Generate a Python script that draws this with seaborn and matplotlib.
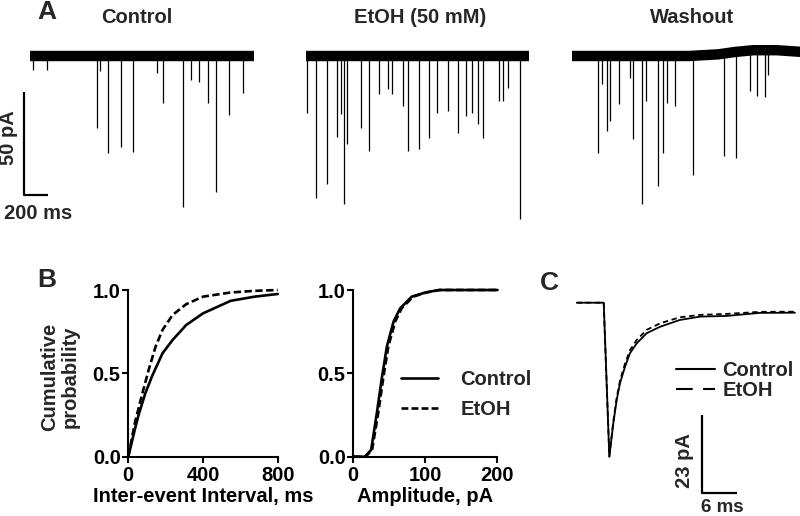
import numpy as np
import pandas as pd
import matplotlib
matplotlib.use("Agg")
import matplotlib.pyplot as plt
import seaborn as sns
from matplotlib.lines import Line2D

# ------------------------------------------------------------------ data
conditions = ["Control", "EtOH (50 mM)", "Washout"]

# Panel A: sEPSC events (time from trace start, ms ; amplitude, pA)
ctrl_evt_t = [26, 145, 600, 573, 667, 778, 881, 1086, 1137, 1308, 1377, 1445, 1522, 1590, 1701, 1821]
ctrl_evt_amp = [6.8, 6.8, 7.5, 34.8, 47.0, 44.0, 46.5, 8.2, 22.7, 73.1, 11.6, 12.6, 22.7, 65.8, 28.6, 17.9]

etoh_evt_t = [11, 83, 177, 268, 297, 325, 353, 468, 539, 627, 704, 738, 832, 875, 966,
              1052, 1117, 1217, 1302, 1368, 1417, 1473, 1516, 1653, 1687, 1730, 1830]
etoh_evt_amp = [27.6, 68.7, 62.0, 39.2, 28.1, 71.6, 42.6, 34.8, 46.0, 18.4, 16.0, 18.4, 24.2, 46.0, 45.0,
                39.7, 27.6, 26.6, 37.3, 29.0, 27.6, 32.9, 39.7, 21.8, 21.8, 15.5, 78.9]

wash_evt_t = [225, 254, 297, 325, 402, 496, 524, 601, 630, 738, 781, 810, 881, 1037,
              1302, 1402, 1522, 1584, 1650, 1679]
wash_evt_amp = [46.9, 13.6, 36.3, 31.5, 23.2, 10.6, 40.2, 71.6, 21.8, 62.9, 46.9, 22.7, 24.2, 57.6,
                49.4, 51.3, 19.8, 22.3, 22.7, 12.1]

trace_dur_ms = [1915, 1907, 1960]
wash_base_t = [0, 1000, 1250, 1400, 1550, 1750, 1960]
wash_base_pA = [0, 0, 0.8, 2.0, 2.8, 2.8, 2.0]

scaleA_ms, scaleA_pA = 200, 50

# Panel B: cumulative probability curves
ibi_ctrl_ms = [0, 36.5, 55, 91, 128, 183, 237, 310, 400, 548, 676, 800]
ibi_ctrl_p = [0, 0.17, 0.25, 0.38, 0.485, 0.62, 0.70, 0.79, 0.86, 0.935, 0.96, 0.976]
ibi_etoh_ms = [0, 36.5, 73, 110, 146, 183, 237, 310, 400, 548, 676, 800]
ibi_etoh_p = [0, 0.21, 0.37, 0.525, 0.66, 0.76, 0.85, 0.915, 0.96, 0.985, 0.995, 1.0]

amp_ctrl_pA = [0, 16, 24.7, 32.6, 39.5, 46.5, 55.8, 65, 81, 100, 118.6, 200]
amp_ctrl_p = [0, 0, 0.04, 0.26, 0.47, 0.66, 0.81, 0.89, 0.96, 0.985, 1.0, 1.0]
amp_etoh_pA = [0, 17, 26, 34.5, 41.5, 48.5, 58, 67, 83, 101, 120, 200]
amp_etoh_p = [0, 0, 0.04, 0.26, 0.47, 0.66, 0.81, 0.89, 0.96, 0.985, 1.0, 1.0]

ibi_ticks = [0, 400, 800]
amp_ticks = [0, 100, 200]
p_ticks = [0.0, 0.5, 1.0]
p_ticklabels = ["0.0", "0.5", "1.0"]

# Panel C: averaged events
avg_t_ms = [-4.7, -0.1, 0.86, 1.54, 2.12, 2.68, 3.54, 4.39, 5.54, 7.25, 9.52, 12.9, 16.4, 20.9, 26.6, 32.6]
avg_ctrl_pA = [0, 0, -45.4, -35.6, -28.7, -23.8, -18.9, -14.9, -12.0, -9.0, -7.1, -5.1, -4.1, -3.9, -3.0, -2.95]
avg_etoh_pA = [0, 0, -45.4, -35.0, -28.0, -23.0, -18.0, -14.0, -11.0, -8.0, -6.1, -4.3, -3.6, -3.3, -2.7, -2.65]
scaleC_ms, scaleC_pA = 6, 23

# ------------------------------------------------------------------ style
sns.set_theme(style="ticks")
plt.rcParams["font.family"] = ["Liberation Sans", "DejaVu Sans"]
plt.rcParams["font.weight"] = "bold"
plt.rcParams["axes.labelweight"] = "bold"

W, H = 800, 516
fig = plt.figure(figsize=(W / 100, H / 100), dpi=100)
fig.patch.set_facecolor("white")


def fx(px):
    return px / W


def fy(py):
    return 1 - py / H


def ftext(px, py, s, **kw):
    kw.setdefault("ha", "center")
    kw.setdefault("va", "center")
    kw.setdefault("fontweight", "bold")
    fig.text(fx(px), fy(py), s, **kw)


FS = 14.5

# ------------------------------------------------------------------ Panel A
MS_PX = 8.55      # ms per pixel
PA_PX = 0.484     # pA per pixel
BASE_PY = 56
axA = fig.add_axes([0, fy(230), 1, 230 / H])
axA.set_xlim(0, W * MS_PX)
axA.set_ylim(-(230 - BASE_PY) * PA_PX, BASE_PY * PA_PX)
axA.axis("off")

trace_start_px = [30, 306, 572]
events = [(ctrl_evt_t, ctrl_evt_amp), (etoh_evt_t, etoh_evt_amp), (wash_evt_t, wash_evt_amp)]
for i, ((et, ea), dur) in enumerate(zip(events, trace_dur_ms)):
    off = trace_start_px[i] * MS_PX
    et = np.asarray(et, float)
    ea = np.asarray(ea, float)
    if i == 2:
        bt = off + np.asarray(wash_base_t, float)
        bl = np.asarray(wash_base_pA, float)
        base_at_evt = np.interp(et, wash_base_t, wash_base_pA)
    else:
        bt = np.array([off, off + dur])
        bl = np.array([0.0, 0.0])
        base_at_evt = np.zeros_like(et)
    axA.plot(bt, bl, color="black", lw=7.5, solid_capstyle="butt", solid_joinstyle="round")
    axA.vlines(off + et, base_at_evt, base_at_evt - ea, color="black", lw=0.9)

# A scale bar
sbx = 24.3 * MS_PX
sby = -(195 - BASE_PY) * PA_PX
axA.plot([sbx, sbx, sbx + scaleA_ms], [sby + scaleA_pA, sby, sby], color="black", lw=1.6,
         solid_capstyle="butt")
ftext(9, 138, f"{scaleA_pA} pA", rotation=90, fontsize=FS)
ftext(38, 213, f"{scaleA_ms} ms", fontsize=FS)

ftext(137, 17, conditions[0], fontsize=FS)
ftext(420, 17, conditions[1], fontsize=FS)
ftext(692, 17, conditions[2], fontsize=FS)
ftext(47, 12, "A", fontsize=19)

# ------------------------------------------------------------------ Panel B
y0_px, y1_px = 456.7, 290.0
df_ibi = pd.DataFrame({
    "x": ibi_ctrl_ms + ibi_etoh_ms,
    "p": ibi_ctrl_p + ibi_etoh_p,
    "cond": ["Control"] * len(ibi_ctrl_ms) + ["EtOH"] * len(ibi_etoh_ms),
})
df_amp = pd.DataFrame({
    "x": amp_ctrl_pA + amp_etoh_pA,
    "p": amp_ctrl_p + amp_etoh_p,
    "cond": ["Control"] * len(amp_ctrl_pA) + ["EtOH"] * len(amp_etoh_pA),
})
dashesB = {"Control": "", "EtOH": (2.8, 1.3)}


def style_axis(ax, xticks, xlabel):
    ax.set_ylim(0, 1)
    ax.set_yticks(p_ticks)
    ax.set_yticklabels(p_ticklabels)
    ax.set_xticks(xticks)
    ax.set_xticklabels([str(t) for t in xticks])
    for s in ["top", "right"]:
        ax.spines[s].set_visible(False)
    for s in ["left", "bottom"]:
        ax.spines[s].set_linewidth(1.5)
        ax.spines[s].set_color("black")
    ax.tick_params(axis="both", direction="out", length=4, width=1.5, color="black",
                   labelsize=FS, labelcolor="black")
    ax.tick_params(axis="y", pad=1.5)
    ax.tick_params(axis="x", pad=3)
    for lab in ax.get_xticklabels() + ax.get_yticklabels():
        lab.set_fontweight("bold")
    ax.set_xlabel(xlabel, fontsize=FS, fontweight="bold", color="black", labelpad=1)
    ax.set_ylabel("")
    ax.set_facecolor("none")
    ax.grid(False)
    for ln in ax.lines:
        ln.set_clip_on(False)


axB1 = fig.add_axes([fx(128.3), fy(y0_px), (277.7 - 128.3) / W, (y0_px - y1_px) / H])
sns.lineplot(data=df_ibi, x="x", y="p", style="cond", dashes=dashesB, color="black",
             lw=1.9, estimator=None, legend=False, ax=axB1)
axB1.set_xlim(0, 800)
style_axis(axB1, ibi_ticks, "Inter-event Interval, ms")
ftext(60, 377, "Cumulative\nprobability", rotation=90, fontsize=FS, linespacing=1.15)
ftext(47, 280, "B", fontsize=19)

axB2 = fig.add_axes([fx(353.3), fy(y0_px), (497.5 - 353.3) / W, (y0_px - y1_px) / H])
sns.lineplot(data=df_amp, x="x", y="p", style="cond", dashes=dashesB, color="black",
             lw=1.9, estimator=None, legend=False, ax=axB2)
axB2.set_xlim(0, 200)
style_axis(axB2, amp_ticks, "Amplitude, pA")

hB = [Line2D([], [], color="black", lw=1.9),
      Line2D([], [], color="black", lw=1.9, ls=(0, (2.6, 1.2)))]
legB = axB2.legend(hB, ["Control", "EtOH"], loc="upper left",
                   bbox_to_anchor=(fx(401), fy(370)), bbox_transform=fig.transFigure,
                   frameon=False, fontsize=FS, handlelength=1.85, handletextpad=1.1,
                   labelspacing=0.55, borderpad=0, borderaxespad=0)
for t in legB.get_texts():
    t.set_fontweight("bold")

# ------------------------------------------------------------------ Panel C
C_MS_PX = 0.171
C_PA_PX = 0.295
C_ONSET_PX, C_BASE_PY = 604.3, 302.7
axC = fig.add_axes([fx(560), 0, 240 / W, (H - 280) / H])
axC.set_xlim((560 - C_ONSET_PX) * C_MS_PX, (800 - C_ONSET_PX) * C_MS_PX)
axC.set_ylim(-(516 - C_BASE_PY) * C_PA_PX, -(280 - C_BASE_PY) * C_PA_PX)
axC.axis("off")

df_avg = pd.DataFrame({
    "t": avg_t_ms + avg_t_ms,
    "I": avg_ctrl_pA + avg_etoh_pA,
    "cond": ["Control"] * len(avg_t_ms) + ["EtOH"] * len(avg_t_ms),
})
sns.lineplot(data=df_avg, x="t", y="I", style="cond", dashes={"Control": "", "EtOH": (3, 2)},
             color="black", lw=1.3, estimator=None, legend=False, sort=False, ax=axC)

csx = (701.7 - C_ONSET_PX) * C_MS_PX
csy = -(493.3 - C_BASE_PY) * C_PA_PX
axC.plot([csx, csx, csx + scaleC_ms], [csy + scaleC_pA, csy, csy], color="black", lw=1.6,
         solid_capstyle="butt")
ftext(684, 461, f"{scaleC_pA} pA", rotation=90, fontsize=FS)
ftext(722, 508, f"{scaleC_ms} ms", fontsize=13.5)
ftext(549, 283, "C", fontsize=19)

hC = [Line2D([], [], color="black", lw=1.5),
      Line2D([], [], color="black", lw=1.5, ls=(0, (8, 5)))]
legC = axC.legend(hC, ["Control", "EtOH"], loc="upper left",
                  bbox_to_anchor=(fx(676), fy(361)), bbox_transform=fig.transFigure,
                  frameon=False, fontsize=FS, handlelength=1.95, handletextpad=0.35,
                  labelspacing=0.05, borderpad=0, borderaxespad=0)
for t in legC.get_texts():
    t.set_fontweight("bold")

fig.savefig("out.png", dpi=100, facecolor="white")
